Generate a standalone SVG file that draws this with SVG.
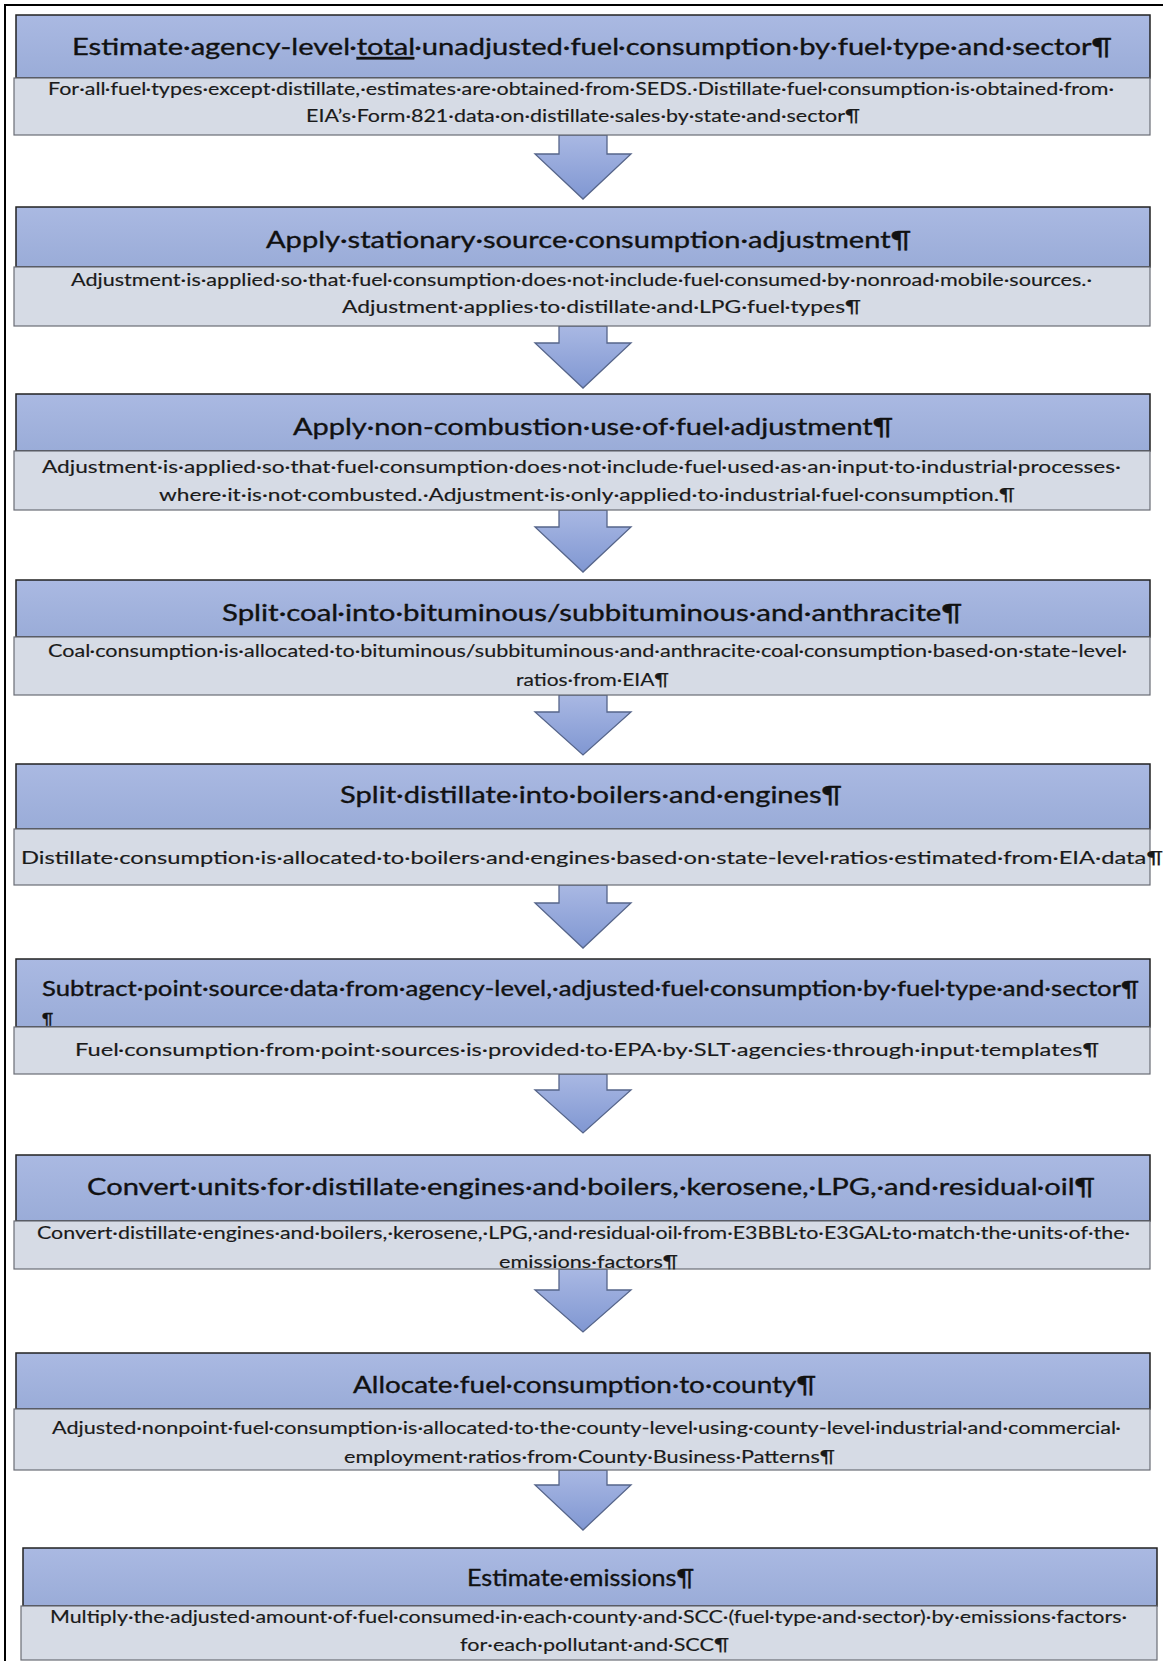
<svg xmlns="http://www.w3.org/2000/svg" width="1163" height="1661" viewBox="0 0 1163 1661">
<defs>
<linearGradient id="hdr" x1="0" y1="0" x2="0" y2="1"><stop offset="0" stop-color="#aab9e2"/><stop offset="1" stop-color="#9aacd8"/></linearGradient>
<linearGradient id="arr" x1="0" y1="0" x2="0" y2="1"><stop offset="0" stop-color="#a9b8e3"/><stop offset="1" stop-color="#8097d2"/></linearGradient>
<style>
.hd{fill:url(#hdr);stroke:#222;stroke-width:1.5}
.bd{fill:#d6dbe5;stroke:#6a6d75;stroke-width:1.2}
.ar{fill:url(#arr);stroke:#56658a;stroke-width:1.3;stroke-linejoin:miter}
.t{font-family:Lato,"Open Sans","Liberation Sans",sans-serif;font-size:24px;fill:#111;stroke:#111;stroke-width:0.35}
.b{font-family:Lato,"Open Sans","Liberation Sans",sans-serif;font-size:17px;fill:#1a1a1a;stroke:#1a1a1a;stroke-width:0.15}
</style>
</defs>
<rect width="1163" height="1661" fill="#fff"/>
<path d="M5 1661V5H1163" fill="none" stroke="#000" stroke-width="2"/>
<g id="connectors">
<path class="ar" d="M559 135H607V154H631L583 199L535 154H559Z"/>
<path class="ar" d="M559 326H607V343H631L583 388L535 343H559Z"/>
<path class="ar" d="M559 510H607V527H631L583 572L535 527H559Z"/>
<path class="ar" d="M559 695H607V712H631L583 755L535 712H559Z"/>
<path class="ar" d="M559 885H607V903H631L583 948L535 903H559Z"/>
<path class="ar" d="M559 1074H607V1090H631L583 1133L535 1090H559Z"/>
<path class="ar" d="M559 1269H607V1290H631L583 1332L535 1290H559Z"/>
<path class="ar" d="M559 1470H607V1485H631L583 1530L535 1485H559Z"/>
</g>
<g id="node-1">
<rect class="hd" x="16" y="15" width="1134" height="63"/>
<rect class="bd" x="14" y="78" width="1136" height="57"/>
<text class="t" x="72" y="55" textLength="1040" lengthAdjust="spacingAndGlyphs">Estimate·agency-level·<tspan text-decoration="underline">total</tspan>·unadjusted·fuel·consumption·by·fuel·type·and·sector¶</text>
<text class="b" x="48" y="95" textLength="1066" lengthAdjust="spacingAndGlyphs">For·all·fuel·types·except·distillate,·estimates·are·obtained·from·SEDS.·Distillate·fuel·consumption·is·obtained·from·</text>
<text class="b" x="306" y="122" textLength="554" lengthAdjust="spacingAndGlyphs">EIA’s·Form·821·data·on·distillate·sales·by·state·and·sector¶</text>
</g>
<g id="node-2">
<rect class="hd" x="16" y="207" width="1134" height="60"/>
<rect class="bd" x="14" y="267" width="1136" height="59"/>
<text class="t" x="266" y="248" textLength="645" lengthAdjust="spacingAndGlyphs">Apply·stationary·source·consumption·adjustment¶</text>
<text class="b" x="71" y="286" textLength="1021" lengthAdjust="spacingAndGlyphs">Adjustment·is·applied·so·that·fuel·consumption·does·not·include·fuel·consumed·by·nonroad·mobile·sources.·</text>
<text class="b" x="342" y="313" textLength="519" lengthAdjust="spacingAndGlyphs">Adjustment·applies·to·distillate·and·LPG·fuel·types¶</text>
</g>
<g id="node-3">
<rect class="hd" x="16" y="394" width="1134" height="57"/>
<rect class="bd" x="14" y="451" width="1136" height="59"/>
<text class="t" x="293" y="435" textLength="600" lengthAdjust="spacingAndGlyphs">Apply·non-combustion·use·of·fuel·adjustment¶</text>
<text class="b" x="42" y="473" textLength="1079" lengthAdjust="spacingAndGlyphs">Adjustment·is·applied·so·that·fuel·consumption·does·not·include·fuel·used·as·an·input·to·industrial·processes·</text>
<text class="b" x="159" y="501" textLength="856" lengthAdjust="spacingAndGlyphs">where·it·is·not·combusted.·Adjustment·is·only·applied·to·industrial·fuel·consumption.¶</text>
</g>
<g id="node-4">
<rect class="hd" x="16" y="580" width="1134" height="57"/>
<rect class="bd" x="14" y="637" width="1136" height="58"/>
<text class="t" x="222" y="621" textLength="740" lengthAdjust="spacingAndGlyphs">Split·coal·into·bituminous/subbituminous·and·anthracite¶</text>
<text class="b" x="48" y="657" textLength="1079" lengthAdjust="spacingAndGlyphs">Coal·consumption·is·allocated·to·bituminous/subbituminous·and·anthracite·coal·consumption·based·on·state-level·</text>
<text class="b" x="516" y="686" textLength="153" lengthAdjust="spacingAndGlyphs">ratios·from·EIA¶</text>
</g>
<g id="node-5">
<rect class="hd" x="16" y="764" width="1134" height="65"/>
<rect class="bd" x="14" y="829" width="1136" height="56"/>
<text class="t" x="340" y="803" textLength="502" lengthAdjust="spacingAndGlyphs">Split·distillate·into·boilers·and·engines¶</text>
<text class="b" x="21" y="864" textLength="1142" lengthAdjust="spacingAndGlyphs">Distillate·consumption·is·allocated·to·boilers·and·engines·based·on·state-level·ratios·estimated·from·EIA·data¶</text>
</g>
<g id="node-6">
<rect class="hd" x="16" y="959" width="1134" height="68"/>
<rect class="bd" x="14" y="1027" width="1136" height="47"/>
<text class="t" x="42" y="996" style="font-size:21px" textLength="1097" lengthAdjust="spacingAndGlyphs">Subtract·point·source·data·from·agency-level,·adjusted·fuel·consumption·by·fuel·type·and·sector¶</text>
<text class="t" x="42" y="1024" style="font-size:16px">¶</text>
<text class="b" x="75" y="1056" style="font-size:18px" textLength="1024" lengthAdjust="spacingAndGlyphs">Fuel·consumption·from·point·sources·is·provided·to·EPA·by·SLT·agencies·through·input·templates¶</text>
</g>
<g id="node-7">
<rect class="hd" x="16" y="1155" width="1134" height="66"/>
<rect class="bd" x="14" y="1221" width="1136" height="48"/>
<text class="t" x="87" y="1195" textLength="1008" lengthAdjust="spacingAndGlyphs">Convert·units·for·distillate·engines·and·boilers,·kerosene,·LPG,·and·residual·oil¶</text>
<text class="b" x="37" y="1239" textLength="1093" lengthAdjust="spacingAndGlyphs">Convert·distillate·engines·and·boilers,·kerosene,·LPG,·and·residual·oil·from·E3BBL·to·E3GAL·to·match·the·units·of·the·</text>
<text class="b" x="499" y="1268" textLength="179" lengthAdjust="spacingAndGlyphs">emissions·factors¶</text>
</g>
<g id="node-8">
<rect class="hd" x="16" y="1353" width="1134" height="56"/>
<rect class="bd" x="14" y="1409" width="1136" height="61"/>
<text class="t" x="353" y="1393" textLength="463" lengthAdjust="spacingAndGlyphs">Allocate·fuel·consumption·to·county¶</text>
<text class="b" x="52" y="1434" textLength="1069" lengthAdjust="spacingAndGlyphs">Adjusted·nonpoint·fuel·consumption·is·allocated·to·the·county-level·using·county-level·industrial·and·commercial·</text>
<text class="b" x="344" y="1463" textLength="491" lengthAdjust="spacingAndGlyphs">employment·ratios·from·County·Business·Patterns¶</text>
</g>
<g id="node-9">
<rect class="hd" x="23" y="1548" width="1134" height="58"/>
<rect class="bd" x="21" y="1606" width="1136" height="54"/>
<text class="t" x="467" y="1586" textLength="227" lengthAdjust="spacingAndGlyphs">Estimate·emissions¶</text>
<text class="b" x="50" y="1623" textLength="1077" lengthAdjust="spacingAndGlyphs">Multiply·the·adjusted·amount·of·fuel·consumed·in·each·county·and·SCC·(fuel·type·and·sector)·by·emissions·factors·</text>
<text class="b" x="460" y="1651" textLength="269" lengthAdjust="spacingAndGlyphs">for·each·pollutant·and·SCC¶</text>
</g>
</svg>
